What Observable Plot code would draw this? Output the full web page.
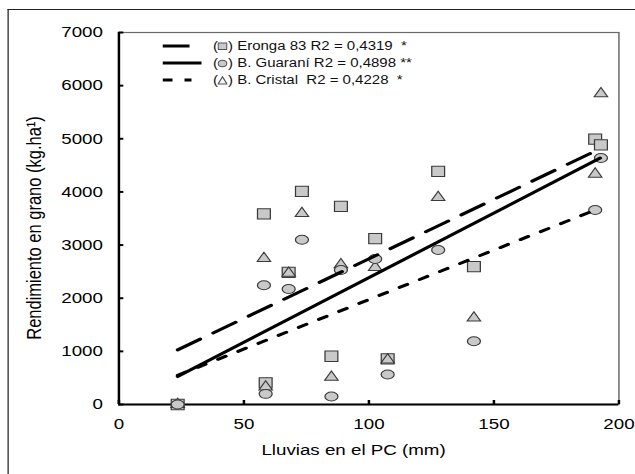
<!DOCTYPE html>
<html>
<head>
<meta charset="utf-8">
<script src="https://cdn.jsdelivr.net/npm/d3@7"></script>
<script src="https://cdn.jsdelivr.net/npm/@observablehq/plot@0.6"></script>
<style>
  html, body { margin: 0; padding: 0; background: #fff; overflow: hidden; }
  #stage { position: relative; width: 635px; height: 474px; overflow: hidden; background: #fff; }
  #wrap { position: absolute; left: 0; top: 0; width: 508px; height: 474px;
          transform: scaleX(1.25); transform-origin: 0 0;
          font-family: "Liberation Sans", Arial, sans-serif; color: #000; }
  #border { position: absolute; left: 6.4px; top: 9px; width: 700px; height: 700px;
            border-left: 1.6px solid #222; border-top: 1.2px solid #222; pointer-events: none; }
  .lg-row { position: absolute; left: 129.6px; height: 16px; display: flex; align-items: center;
            font-size: 12px; white-space: pre; color: #111; }
  .lg-row svg { display: block; }
</style>
</head>
<body>
<div id="stage"><div id="wrap"><div id="border"></div></div></div>
<script>
// ---- data ----
const rainfall = [23.5, 58, 58.7, 67.9, 73.2, 85, 88.8, 102.5, 107.5, 127.7, 142, 190.5, 192.8];
const eronga  = [0, 3585, 407, 2487, 4010, 908, 3728, 3120, 858, 4386, 2594, 4994, 4887];
const guarani = [0, 2243, 200, 2174, 3100, 150, 2531, 2738, 564, 2907, 1190, 3660, 4637];
const cristal = [0, 2750, 330, 2470, 3597, 514, 2630, 2581, 840, 3897, 1629, 4336, 5850];

const erongaFitX  = [23.5, 189.5];
const erongaFitY  = [1028, 4745];
const guaraniFitX = [23.5, 192.5];
const guaraniFitY = [526, 4637];
const cristalFitX = [23.5, 190.5];
const cristalFitY = [550, 3660];

const xTicks = [0, 50, 100, 150, 200];
const yTicks = [0, 1000, 2000, 3000, 4000, 5000, 6000, 7000];

const seriesNames = ["Eronga 83", "B. Guaraní", "B. Cristal"];
const r2Texts = [" R2 = 0,4319  *", " R2 = 0,4898 **", "  R2 = 0,4228  *"];
const xLabel = "Lluvias en el PC (mm)";
const yLabel = "Rendimiento en grano (kg.ha¹)";

// ---- build ----
const S = 1.25;           // horizontal stretch of the original picture
const W = 635 / S;

const toRows = (xs, ys) => xs.map((x, i) => ({x, y: ys[i]}));

const ellipse = {
  draw(ctx, size) {
    const r = Math.sqrt(size / Math.PI);
    const rx = r, ry = r * 0.86, k = 0.5523;
    ctx.moveTo(rx, 0);
    ctx.bezierCurveTo(rx, ry * k, rx * k, ry, 0, ry);
    ctx.bezierCurveTo(-rx * k, ry, -rx, ry * k, -rx, 0);
    ctx.bezierCurveTo(-rx, -ry * k, -rx * k, -ry, 0, -ry);
    ctx.bezierCurveTo(rx * k, -ry, rx, -ry * k, rx, 0);
    ctx.closePath();
  }
};

const dotFill = "#c9c9c9", dotStroke = "#3a3a3a";
const plain = d3.format("d");

const chart = Plot.plot({
  width: W,
  height: 474,
  marginLeft: 118.3 / S,
  marginRight: (635 - 618.3) / S,
  marginTop: 32,
  marginBottom: 70,
  x: {domain: [0, 200]},
  y: {domain: [0, 7000]},
  style: {fontFamily: "'Liberation Sans', Arial, sans-serif", fontSize: "15px", color: "#000", background: "transparent", overflow: "visible"},
  marks: [
    Plot.frame({stroke: "#6a6a6a", strokeWidth: 1.2}),
    Plot.axisX(xTicks, {tickSize: 0, tickPadding: 14, label: null, tickFormat: plain}),
    Plot.axisY(yTicks, {tickSize: 0, tickPadding: 12.8, label: null, tickFormat: plain}),
    Plot.axisX(xTicks, {fill: "none", tickSize: 4, dy: -4, strokeWidth: 2, label: null}),
    Plot.axisY(yTicks, {fill: "none", tickSize: 4, dx: 4, strokeWidth: 2, label: null}),
    Plot.ruleY([0], {stroke: "#000", strokeWidth: 2}),
    Plot.ruleX([0], {stroke: "#000", strokeWidth: 2}),
    Plot.dot(toRows(rainfall, eronga), {x: "x", y: "y", symbol: "square", r: 5.8, fill: dotFill, stroke: dotStroke, strokeWidth: 1}),
    Plot.dot(toRows(rainfall, cristal), {x: "x", y: "y", symbol: "triangle", r: 4, fill: dotFill, stroke: dotStroke, strokeWidth: 1}),
    Plot.dot(toRows(rainfall, guarani), {x: "x", y: "y", symbol: ellipse, r: 5.2, fill: dotFill, stroke: dotStroke, strokeWidth: 1}),
    Plot.line(toRows(erongaFitX, erongaFitY), {x: "x", y: "y", stroke: "#000", strokeWidth: 3, strokeDasharray: "21,12"}),
    Plot.line(toRows(guaraniFitX, guaraniFitY), {x: "x", y: "y", stroke: "#000", strokeWidth: 3}),
    Plot.line(toRows(cristalFitX, cristalFitY), {x: "x", y: "y", stroke: "#000", strokeWidth: 3, strokeDasharray: "7,11"}),
    Plot.text([xLabel], {text: d => d, frameAnchor: "bottom", dy: 46, dx: -12.3, fontSize: 15, lineAnchor: "middle"}),
    Plot.text([yLabel], {text: d => d, frameAnchor: "left", rotate: -90, dx: -68, dy: 9.5, fontSize: 16.5, lineAnchor: "middle", textAnchor: "middle"})
  ]
});

const wrap = document.getElementById("wrap");
wrap.insertBefore(chart, wrap.firstChild);

// ---- legend ----
const ns = "http://www.w3.org/2000/svg";
const rowCenters = [46, 63, 80];
const lineStyles = [
  {len: 21.6, dash: null},
  {len: 31.2, dash: null},
  {len: 23.2, dash: "8,9.6"}
];
const symbolSvgs = [
  '<svg width="8" height="9" viewBox="0 0 8 9"><rect x="0.5" y="1" width="7" height="6.5" fill="#c9c9c9" stroke="#555" stroke-width="1"/></svg>',
  '<svg width="8" height="9" viewBox="0 0 8 9"><ellipse cx="4" cy="4.5" rx="3.5" ry="3.2" fill="#c9c9c9" stroke="#555" stroke-width="1"/></svg>',
  '<svg width="8" height="9" viewBox="0 0 8 9"><polygon points="4,0.8 7.6,8 0.4,8" fill="#f4f4f4" stroke="#555" stroke-width="1"/></svg>'
];
seriesNames.forEach((name, i) => {
  const row = document.createElement("div");
  row.className = "lg-row";
  row.style.top = (rowCenters[i] - 8) + "px";
  const svg = document.createElementNS(ns, "svg");
  svg.setAttribute("width", "40.8");
  svg.setAttribute("height", "16");
  const ln = document.createElementNS(ns, "line");
  ln.setAttribute("x1", 0); ln.setAttribute("x2", lineStyles[i].len);
  ln.setAttribute("y1", 8); ln.setAttribute("y2", 8);
  ln.setAttribute("stroke", "#000"); ln.setAttribute("stroke-width", 3);
  if (lineStyles[i].dash) ln.setAttribute("stroke-dasharray", lineStyles[i].dash);
  svg.appendChild(ln);
  row.appendChild(svg);
  const t1 = document.createElement("span"); t1.textContent = "(";
  const sym = document.createElement("span"); sym.innerHTML = symbolSvgs[i];
  sym.style.display = "inline-block";
  const t2 = document.createElement("span"); t2.textContent = ") " + name + r2Texts[i];
  row.appendChild(t1); row.appendChild(sym); row.appendChild(t2);
  wrap.appendChild(row);
});
</script>
</body>
</html>
